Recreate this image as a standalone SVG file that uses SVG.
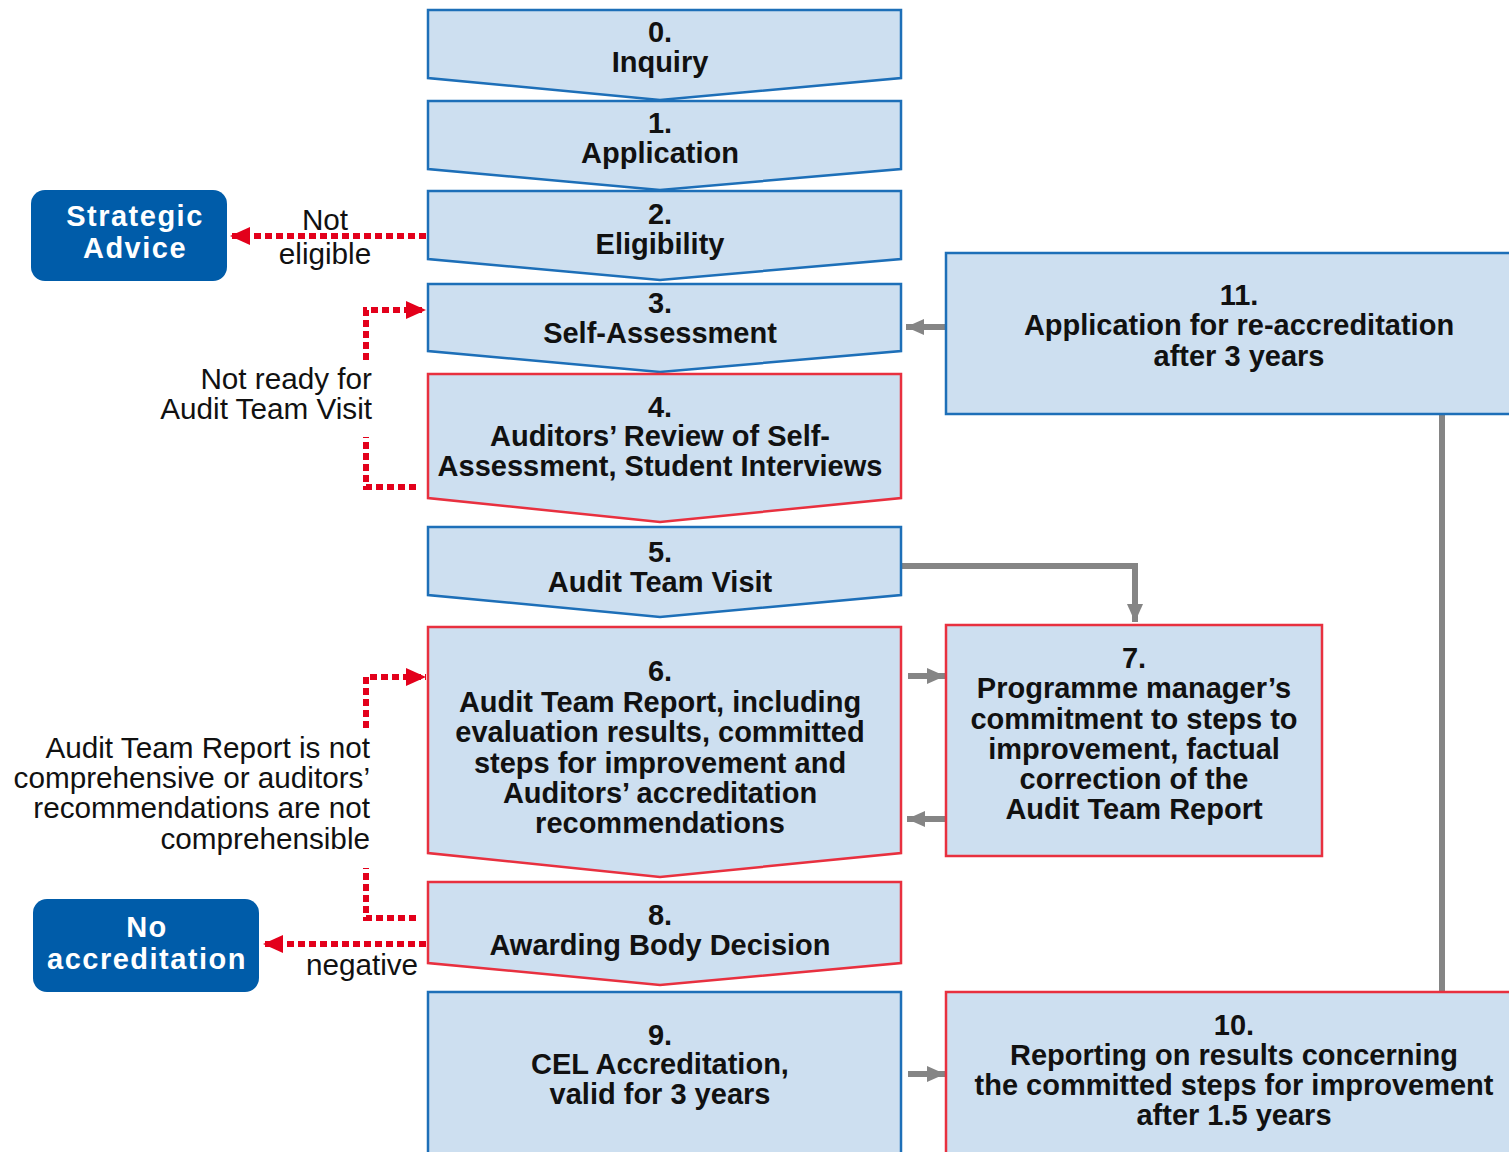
<svg xmlns="http://www.w3.org/2000/svg" width="1509" height="1152" viewBox="0 0 1509 1152">
<style>
.bx{fill:#cddff0;stroke:#1d6fb8;stroke-width:2.5}
.rb{fill:#cddff0;stroke:#e8303f;stroke-width:2.5}
.rr{fill:#005ca9}
.t{font-family:"Liberation Sans",Arial,sans-serif;font-weight:bold;font-size:29px;fill:#111;text-anchor:middle}
.w{font-family:"Liberation Sans",Arial,sans-serif;font-weight:bold;font-size:29px;letter-spacing:1.5px;fill:#fff;text-anchor:middle}
.l{font-family:"Liberation Sans",Arial,sans-serif;font-size:29.7px;fill:#111}
.g{fill:none;stroke:#858585;stroke-width:6}
.d{fill:none;stroke:#e3001b;stroke-width:6;stroke-dasharray:7 4}
</style>
<defs>
<marker id="ga" markerUnits="userSpaceOnUse" markerWidth="20" markerHeight="20" refX="18" refY="10" orient="auto">
<path d="M0,2 L18,10 L0,18 Z" fill="#858585"/>
</marker>
<marker id="ra" markerUnits="userSpaceOnUse" markerWidth="22" markerHeight="22" refX="20" refY="11" orient="auto">
<path d="M0,2 L20,11 L0,20 Z" fill="#e3001b"/>
</marker>
</defs>

<g id="connectors">
<path class="g" d="M946,327 H906" marker-end="url(#ga)"/>
<path class="g" d="M901,566 H1135 V622" marker-end="url(#ga)"/>
<path class="g" d="M908,676 H945" marker-end="url(#ga)"/>
<path class="g" d="M945,819 H907" marker-end="url(#ga)"/>
<path class="g" d="M908,1074 H945" marker-end="url(#ga)"/>
<path class="g" d="M1442,414 V992"/>
<path class="d" d="M426,236 H230" marker-end="url(#ra)"/>
<path class="d" d="M416,487 H366 V437"/>
<path class="d" d="M366,360 V310 H426" marker-end="url(#ra)"/>
<path class="d" d="M416,918 H366 V868"/>
<path class="d" d="M366,728 V677 H426" marker-end="url(#ra)"/>
<path class="d" d="M426,944 H263" marker-end="url(#ra)"/>
<text class="l" x="325" y="230" text-anchor="middle">Not</text>
<text class="l" x="325" y="264" text-anchor="middle">eligible</text>
<text class="l" x="372" y="389" text-anchor="end">Not ready for</text>
<text class="l" x="372" y="419" text-anchor="end">Audit Team Visit</text>
<text class="l" x="370" y="758" text-anchor="end">Audit Team Report is not</text>
<text class="l" x="370" y="788" text-anchor="end">comprehensive or auditors’</text>
<text class="l" x="370" y="818" text-anchor="end">recommendations are not</text>
<text class="l" x="370" y="849" text-anchor="end">comprehensible</text>
<text class="l" x="362" y="975" text-anchor="middle">negative</text>
</g>

<g id="n0">
<polygon class="bx" points="428,10 901,10 901,78 660,100 428,78"/>
<text class="t" x="660" y="42">0.</text>
<text class="t" x="660" y="72">Inquiry</text>
</g>
<g id="n1">
<polygon class="bx" points="428,101 901,101 901,169 660,190 428,169"/>
<text class="t" x="660" y="133">1.</text>
<text class="t" x="660" y="163">Application</text>
</g>
<g id="n2">
<polygon class="bx" points="428,191 901,191 901,259 660,280 428,259"/>
<text class="t" x="660" y="224">2.</text>
<text class="t" x="660" y="254">Eligibility</text>
</g>
<g id="n3">
<polygon class="bx" points="428,284 901,284 901,351 660,372 428,351"/>
<text class="t" x="660" y="313">3.</text>
<text class="t" x="660" y="343">Self-Assessment</text>
</g>
<g id="n4">
<polygon class="rb" points="428,374 901,374 901,498 660,522 428,498"/>
<text class="t" x="660" y="417">4.</text>
<text class="t" x="660" y="446">Auditors’ Review of Self-</text>
<text class="t" x="660" y="476">Assessment, Student Interviews</text>
</g>
<g id="n5">
<polygon class="bx" points="428,527 901,527 901,595 660,617 428,595"/>
<text class="t" x="660" y="562">5.</text>
<text class="t" x="660" y="592">Audit Team Visit</text>
</g>
<g id="n6">
<polygon class="rb" points="428,627 901,627 901,853 660,877 428,853"/>
<text class="t" x="660" y="681">6.</text>
<text class="t" x="660" y="712">Audit Team Report, including</text>
<text class="t" x="660" y="742">evaluation results, committed</text>
<text class="t" x="660" y="773">steps for improvement and</text>
<text class="t" x="660" y="803">Auditors’ accreditation</text>
<text class="t" x="660" y="833">recommendations</text>
</g>
<g id="n7">
<rect class="rb" x="946" y="625" width="376" height="231"/>
<text class="t" x="1134" y="668">7.</text>
<text class="t" x="1134" y="698">Programme manager’s</text>
<text class="t" x="1134" y="729">commitment to steps to</text>
<text class="t" x="1134" y="759">improvement, factual</text>
<text class="t" x="1134" y="789">correction of the</text>
<text class="t" x="1134" y="819">Audit Team Report</text>
</g>
<g id="n8">
<polygon class="rb" points="428,882 901,882 901,963 660,985 428,963"/>
<text class="t" x="660" y="925">8.</text>
<text class="t" x="660" y="955">Awarding Body Decision</text>
</g>
<g id="n9">
<rect class="bx" x="428" y="992" width="473" height="175"/>
<text class="t" x="660" y="1045">9.</text>
<text class="t" x="660" y="1074">CEL Accreditation,</text>
<text class="t" x="660" y="1104">valid for 3 years</text>
</g>
<g id="n10">
<rect class="rb" x="946" y="992" width="580" height="175"/>
<text class="t" x="1234" y="1035">10.</text>
<text class="t" x="1234" y="1065">Reporting on results concerning</text>
<text class="t" x="1234" y="1095">the committed steps for improvement</text>
<text class="t" x="1234" y="1125">after 1.5 years</text>
</g>
<g id="n11">
<rect class="bx" x="946" y="253" width="580" height="161"/>
<text class="t" x="1239" y="305">11.</text>
<text class="t" x="1239" y="335">Application for re-accreditation</text>
<text class="t" x="1239" y="366">after 3 years</text>
</g>
<g id="strategic">
<rect class="rr" x="31" y="190" width="196" height="91" rx="14"/>
<text class="w" x="135" y="226">Strategic</text>
<text class="w" x="135" y="258">Advice</text>
</g>
<g id="noacc">
<rect class="rr" x="33" y="899" width="226" height="93" rx="14"/>
<text class="w" x="147" y="937">No</text>
<text class="w" x="147" y="969">accreditation</text>
</g>
</svg>
